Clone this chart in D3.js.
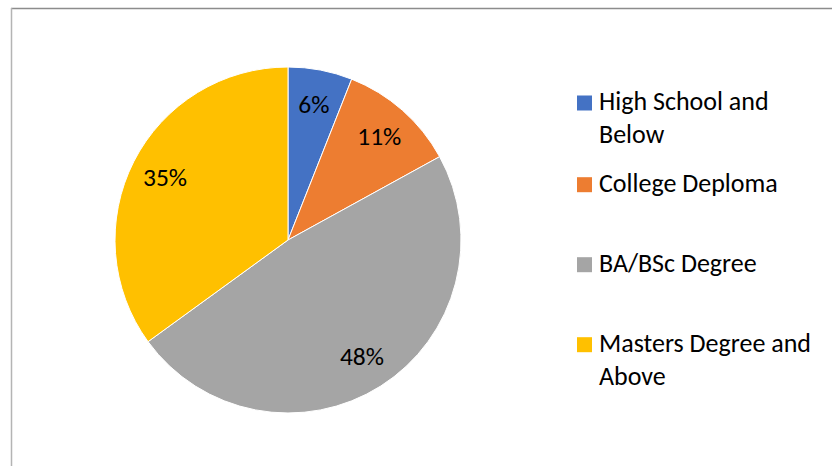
<!DOCTYPE html>
<html>
<head>
<meta charset="utf-8">
<script src="https://cdn.jsdelivr.net/npm/d3@7"></script>
<style>
  body { margin: 0; background: #fff; }
  svg { display: block; }
  text { font-family: Calibri, Carlito, "Open Sans", sans-serif; fill: #000; }
</style>
</head>
<body>
<div id="chart"></div>
<script>
// Chart data
const categories = ["High School and Below", "College Deploma", "BA/BSc Degree", "Masters Degree and Above"];
const percents = [6, 11, 48, 35];
const legendLines = [["High School and", "Below"], ["College Deploma"], ["BA/BSc Degree"], ["Masters Degree and", "Above"]];
const colors = ["#4472C4", "#ED7D31", "#A5A5A5", "#FFC000"];

const width = 832, height = 466;
const cx = 288, cy = 240, radius = 173;

const svg = d3.select("#chart").append("svg")
  .attr("width", width)
  .attr("height", height);

// Chart area border (only top and left visible in the crop)
svg.append("line")
  .attr("x1", 11).attr("y1", 8.5).attr("x2", width).attr("y2", 8.5)
  .attr("stroke", "#8c8c8c").attr("stroke-width", 1.5);
svg.append("line")
  .attr("x1", 11.5).attr("y1", 8).attr("x2", 11.5).attr("y2", height)
  .attr("stroke", "#b4b4b4").attr("stroke-width", 1.5);

const rows = categories.map((c, i) => ({ name: c, value: percents[i], color: colors[i] }));

const pie = d3.pie().sort(null).value(d => d.value);
const arc = d3.arc().innerRadius(0).outerRadius(radius);
const labelArc = d3.arc().innerRadius(138).outerRadius(138);

const g = svg.append("g").attr("transform", `translate(${cx},${cy})`);

g.selectAll("path")
  .data(pie(rows))
  .enter()
  .append("path")
  .attr("d", arc)
  .attr("fill", d => d.data.color)
  .attr("stroke", "white")
  .attr("stroke-width", 1);

g.selectAll("text.pct")
  .data(pie(rows))
  .enter()
  .append("text")
  .attr("class", "pct")
  .attr("transform", d => `translate(${labelArc.centroid(d)})`)
  .attr("text-anchor", "middle")
  .attr("dy", "0.34em")
  .style("font-size", "25.5px")
  .text(d => d.data.value + "%");

// Legend
const legendY = [110, 191.7, 271.7, 351.7];
const legend = svg.append("g");
rows.forEach((r, i) => {
  legend.append("rect")
    .attr("x", 577).attr("y", legendY[i] - 14.5)
    .attr("width", 15).attr("height", 15)
    .attr("fill", r.color);
  legendLines[i].forEach((line, j) => {
    legend.append("text")
      .attr("x", 599)
      .attr("y", legendY[i] + j * 33.3)
      .style("font-size", "26px")
      .text(line);
  });
});
</script>
</body>
</html>
